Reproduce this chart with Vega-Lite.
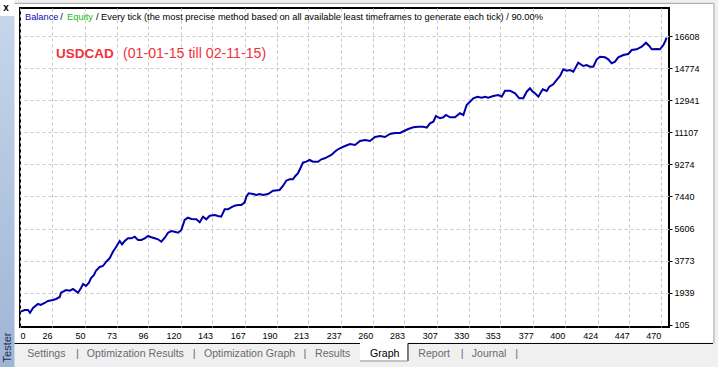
{
"$schema": "https://vega.github.io/schema/vega-lite/v6.json",
"width": 649, "height": 319,
"autosize": {"type": "none"},
"padding": {"left": 20, "top": 8, "right": 49, "bottom": 40},
"background": "white",
"resolve": {"axis": {"x": "independent", "y": "independent"}},
"config": {"font": "Liberation Sans", "view": {"stroke": "black", "strokeWidth": 2},
 "axis": {"gridColor": "#c8c8c8", "gridDash": [3, 3], "gridWidth": 1, "domain": false, "title": null, "labelOverlap": false, "labelFlush": false, "labelFontSize": 9, "labelColor": "#000000"}},
"datasets": {"balance": [
{"trade":3.1,"balance":854},{"trade":6.0,"balance":951},{"trade":8.4,"balance":951},{"trade":9.9,"balance":797},{"trade":12.1,"balance":1065},{"trade":15.7,"balance":1294},{"trade":17.7,"balance":1237},{"trade":20.6,"balance":1351},{"trade":23.0,"balance":1465},{"trade":26.7,"balance":1523},{"trade":28.9,"balance":1580},{"trade":31.6,"balance":1694},{"trade":32.5,"balance":1940},{"trade":36.2,"balance":2094},{"trade":38.9,"balance":2054},{"trade":41.3,"balance":2151},{"trade":44.9,"balance":1940},{"trade":47.1,"balance":2208},{"trade":48.6,"balance":2437},{"trade":50.7,"balance":2323},{"trade":52.9,"balance":2511},{"trade":54.4,"balance":2780},{"trade":56.6,"balance":2952},{"trade":58.0,"balance":3197},{"trade":60.7,"balance":3409},{"trade":63.1,"balance":3466},{"trade":65.5,"balance":3712},{"trade":68.0,"balance":3906},{"trade":70.4,"balance":4283},{"trade":72.8,"balance":4569},{"trade":75.3,"balance":4895},{"trade":77.0,"balance":4706},{"trade":79.0,"balance":4895},{"trade":81.4,"balance":5049},{"trade":83.8,"balance":5049},{"trade":86.3,"balance":5141},{"trade":88.7,"balance":4952},{"trade":91.1,"balance":4952},{"trade":93.6,"balance":5049},{"trade":96.0,"balance":5181},{"trade":98.4,"balance":5107},{"trade":100.9,"balance":5049},{"trade":103.3,"balance":4992},{"trade":105.7,"balance":4855},{"trade":108.2,"balance":5084},{"trade":110.6,"balance":5369},{"trade":113.0,"balance":5467},{"trade":115.4,"balance":5427},{"trade":117.9,"balance":5369},{"trade":120.3,"balance":5524},{"trade":122.7,"balance":6095},{"trade":125.1,"balance":6227},{"trade":127.6,"balance":6152},{"trade":131.2,"balance":6135},{"trade":133.7,"balance":5964},{"trade":136.1,"balance":6284},{"trade":138.5,"balance":6135},{"trade":141.0,"balance":6341},{"trade":144.6,"balance":6381},{"trade":147.0,"balance":6324},{"trade":149.4,"balance":6284},{"trade":151.9,"balance":6707},{"trade":154.3,"balance":6707},{"trade":156.7,"balance":6821},{"trade":159.2,"balance":6913},{"trade":161.6,"balance":6953},{"trade":164.0,"balance":6953},{"trade":166.5,"balance":7107},{"trade":167.7,"balance":7427},{"trade":169.4,"balance":7622},{"trade":172.6,"balance":7582},{"trade":175.0,"balance":7524},{"trade":177.4,"balance":7582},{"trade":179.9,"balance":7524},{"trade":183.5,"balance":7582},{"trade":187.2,"balance":7770},{"trade":192.0,"balance":7810},{"trade":194.4,"balance":8039},{"trade":196.8,"balance":8342},{"trade":199.3,"balance":8422},{"trade":201.7,"balance":8422},{"trade":203.0,"balance":8570},{"trade":205.4,"balance":8765},{"trade":207.1,"balance":9051},{"trade":209.0,"balance":9371},{"trade":211.4,"balance":9428},{"trade":213.9,"balance":9525},{"trade":216.3,"balance":9428},{"trade":220.0,"balance":9428},{"trade":222.4,"balance":9565},{"trade":224.9,"balance":9622},{"trade":227.3,"balance":9714},{"trade":229.7,"balance":9811},{"trade":232.2,"balance":9999},{"trade":234.6,"balance":10137},{"trade":237.0,"balance":10228},{"trade":239.7,"balance":10325},{"trade":243.3,"balance":10440},{"trade":247.0,"balance":10382},{"trade":250.6,"balance":10611},{"trade":254.3,"balance":10668},{"trade":257.9,"balance":10611},{"trade":261.6,"balance":10840},{"trade":265.2,"balance":10897},{"trade":268.8,"balance":10840},{"trade":272.5,"balance":11011},{"trade":276.1,"balance":11068},{"trade":279.8,"balance":11068},{"trade":282.7,"balance":11183},{"trade":285.8,"balance":11297},{"trade":289.5,"balance":11394},{"trade":293.1,"balance":11428},{"trade":296.8,"balance":11428},{"trade":299.3,"balance":11371},{"trade":301.7,"balance":11623},{"trade":304.1,"balance":11714},{"trade":306.0,"balance":12040},{"trade":309.0,"balance":11909},{"trade":311.4,"balance":11966},{"trade":313.3,"balance":12097},{"trade":316.3,"balance":11966},{"trade":319.9,"balance":11966},{"trade":323.5,"balance":12194},{"trade":326.0,"balance":12097},{"trade":328.4,"balance":12669},{"trade":330.8,"balance":12857},{"trade":333.3,"balance":13052},{"trade":336.2,"balance":13143},{"trade":339.4,"balance":13086},{"trade":341.8,"balance":13143},{"trade":344.2,"balance":13086},{"trade":347.8,"balance":13183},{"trade":351.5,"balance":13240},{"trade":354.0,"balance":13143},{"trade":356.4,"balance":13486},{"trade":360.0,"balance":13486},{"trade":363.7,"balance":13338},{"trade":366.8,"balance":13052},{"trade":369.7,"balance":13052},{"trade":372.2,"balance":13429},{"trade":374.6,"balance":13623},{"trade":376.6,"balance":13429},{"trade":378.3,"balance":13338},{"trade":380.7,"balance":13143},{"trade":383.9,"balance":13566},{"trade":386.8,"balance":13469},{"trade":388.7,"balance":13715},{"trade":391.6,"balance":13852},{"trade":394.1,"balance":14098},{"trade":396.5,"balance":14326},{"trade":398.9,"balance":14709},{"trade":401.4,"balance":14629},{"trade":403.8,"balance":14669},{"trade":406.2,"balance":14572},{"trade":409.8,"balance":15087},{"trade":413.5,"balance":14898},{"trade":416.0,"balance":14955},{"trade":418.4,"balance":14858},{"trade":420.8,"balance":14858},{"trade":423.3,"balance":15281},{"trade":425.7,"balance":15430},{"trade":429.3,"balance":15395},{"trade":431.7,"balance":15281},{"trade":434.2,"balance":15052},{"trade":436.6,"balance":15144},{"trade":439.0,"balance":15395},{"trade":442.7,"balance":15527},{"trade":446.3,"balance":15584},{"trade":448.8,"balance":15813},{"trade":452.4,"balance":15853},{"trade":456.1,"balance":16001},{"trade":459.2,"balance":16230},{"trade":461.6,"balance":16041},{"trade":463.4,"balance":15853},{"trade":467.0,"balance":15870},{"trade":469.4,"balance":15853},{"trade":471.9,"balance":16098},{"trade":473.3,"balance":16327},{"trade":474.3,"balance":16516}
]},
"layer": [
{"data": {"name": "balance"}, "mark": {"type": "line", "color": "#0000aa", "strokeWidth": 2},
 "encoding": {
  "x": {"field": "trade", "type": "quantitative", "scale": {"domain": [2.6, 476], "nice": false, "zero": false},
   "axis": {"values": [2.6, 26, 50, 73, 96, 120, 143, 167, 190, 213, 237, 260, 283, 307, 330, 353, 377, 400, 424, 447, 470], "format": "d", "labelExpr": "datum.value < 5 ? '0' : datum.label", "labelAlign": {"condition": {"test": "datum.value < 5", "value": "left"}, "value": "right"}, "labelFlush": false, "labelOverlap": false, "ticks": false, "tickSize": 0, "labelPadding": 4, "domain": false, "grid": true, "gridColor": "#c8c8c8", "gridDash": [3, 3], "title": null, "labelFontSize": 9, "labelColor": "#000000", "labelBaseline": "top"}},
  "y": {"field": "balance", "type": "quantitative", "scale": {"domain": [-21, 18213], "nice": false, "zero": false},
   "axis": {"orient": "right", "values": [105, 1939, 3773, 5606, 7440, 9274, 11107, 12941, 14774, 16608], "format": "d", "tickSize": 3, "tickColor": "#000000", "labelPadding": 2, "domain": false, "grid": true, "gridColor": {"condition": {"test": "datum.value < 200", "value": "transparent"}, "value": "#c8c8c8"}, "gridDash": [3, 3], "title": null, "labelFontSize": 9, "labelColor": "#000000", "labelAlign": "left", "labelBaseline": "middle", "labelOverlap": false, "labelFlush": false}}
 }},
{"data": {"values": [{}]}, "mark": {"type": "rect", "color": "#f0f0f0"}, "encoding": {"x": {"datum": -1.4, "type": "quantitative", "axis": null}, "x2": {"datum": 515}, "y": {"datum": -992, "type": "quantitative", "axis": null}, "y2": {"datum": -2500}}},
{"data": {"values": [{}]}, "mark": {"type": "rect", "color": "#f0f0f0"}, "encoding": {"x": {"datum": -1.4, "type": "quantitative", "axis": null}, "x2": {"datum": 515}, "y": {"datum": 18499, "type": "quantitative", "axis": null}, "y2": {"datum": 18800}}},
{"data": {"values": [{}]}, "mark": {"type": "rect", "color": "#f0f0f0"}, "encoding": {"x": {"datum": 509.0, "type": "quantitative", "axis": null}, "x2": {"datum": 515}, "y": {"datum": 18800, "type": "quantitative", "axis": null}, "y2": {"datum": -2500}}},
{"data": {"values": [{}]}, "mark": {"type": "rect", "color": {"gradient": "linear", "x1": 0, "y1": 0, "x2": 0, "y2": 1, "stops": [{"offset": 0, "color": "#c6d5ea"}, {"offset": 1, "color": "#9fb5d5"}]}}, "encoding": {"x": {"datum": -12.5, "type": "quantitative", "axis": null}, "x2": {"datum": -1.4}, "y": {"datum": 17756, "type": "quantitative", "axis": null}, "y2": {"datum": -2500}}},
{"data": {"values": [{}]}, "mark": {"type": "rule", "color": "#000000", "strokeWidth": 1}, "encoding": {"x": {"datum": -1.4, "type": "quantitative", "axis": null}, "x2": {"datum": 508.1}, "y": {"datum": -963, "type": "quantitative", "axis": null}}},
{"data": {"values": [{}]}, "mark": {"type": "rule", "color": "#a0a0a0", "strokeWidth": 1}, "encoding": {"x": {"datum": -1.4, "type": "quantitative", "axis": null}, "x2": {"datum": 508.8}, "y": {"datum": 18480, "type": "quantitative", "axis": null}}},
{"data": {"values": [{}]}, "mark": {"type": "rule", "color": "#a0a0a0", "strokeWidth": 1}, "encoding": {"x": {"datum": 508.8, "type": "quantitative", "axis": null}, "y": {"datum": 18480, "type": "quantitative", "axis": null}, "y2": {"datum": -963}}},
{"data": {"values": [{}]}, "mark": {"type": "rect", "color": "#ffffff"}, "encoding": {"x": {"datum": 250.6, "type": "quantitative", "axis": null}, "x2": {"datum": 285.6}, "y": {"datum": -920, "type": "quantitative", "axis": null}, "y2": {"datum": -1964}}},
{"data": {"values": [{}]}, "mark": {"type": "rule", "color": "#000000", "strokeWidth": 1}, "encoding": {"x": {"datum": 285.6, "type": "quantitative", "axis": null}, "y": {"datum": -963, "type": "quantitative", "axis": null}, "y2": {"datum": -1964}}},
{"data": {"values": [{}]}, "mark": {"type": "rule", "color": "#909090", "strokeWidth": 1}, "encoding": {"x": {"datum": 250.6, "type": "quantitative", "axis": null}, "x2": {"datum": 285.6}, "y": {"datum": -1964, "type": "quantitative", "axis": null}}},
{"data": {"values": [{}]}, "mark": {"type": "text", "text": "x", "fontWeight": "bold", "fontSize": 10, "align": "center", "baseline": "middle", "color": "#000000"}, "encoding": {"x": {"datum": -7.6, "type": "quantitative", "axis": null}, "y": {"datum": 18185, "type": "quantitative", "axis": null}}},
{"data": {"values": [{}]}, "mark": {"type": "text", "text": "Tester", "angle": 270, "fontSize": 11, "align": "center", "baseline": "middle", "color": "#1e2d4f"}, "encoding": {"x": {"datum": -6.15, "type": "quantitative", "axis": null}, "y": {"datum": -1193, "type": "quantitative", "axis": null}}},
{"data": {"values": [{}]}, "mark": {"type": "text", "text": "Settings", "fontSize": 10.6, "align": "left", "baseline": "middle", "color": "#6b6b6b"}, "encoding": {"x": {"datum": 7.9, "type": "quantitative", "axis": null}, "y": {"datum": -1564, "type": "quantitative", "axis": null}}},
{"data": {"values": [{}]}, "mark": {"type": "text", "text": "|", "fontSize": 11, "align": "center", "baseline": "middle", "color": "#6b6b6b"}, "encoding": {"x": {"datum": 44.4, "type": "quantitative", "axis": null}, "y": {"datum": -1564, "type": "quantitative", "axis": null}}},
{"data": {"values": [{}]}, "mark": {"type": "text", "text": "Optimization Results", "fontSize": 10.6, "align": "left", "baseline": "middle", "color": "#6b6b6b"}, "encoding": {"x": {"datum": 51.3, "type": "quantitative", "axis": null}, "y": {"datum": -1564, "type": "quantitative", "axis": null}}},
{"data": {"values": [{}]}, "mark": {"type": "text", "text": "|", "fontSize": 11, "align": "center", "baseline": "middle", "color": "#6b6b6b"}, "encoding": {"x": {"datum": 129.7, "type": "quantitative", "axis": null}, "y": {"datum": -1564, "type": "quantitative", "axis": null}}},
{"data": {"values": [{}]}, "mark": {"type": "text", "text": "Optimization Graph", "fontSize": 10.6, "align": "left", "baseline": "middle", "color": "#6b6b6b"}, "encoding": {"x": {"datum": 136.8, "type": "quantitative", "axis": null}, "y": {"datum": -1564, "type": "quantitative", "axis": null}}},
{"data": {"values": [{}]}, "mark": {"type": "text", "text": "|", "fontSize": 11, "align": "center", "baseline": "middle", "color": "#6b6b6b"}, "encoding": {"x": {"datum": 210.5, "type": "quantitative", "axis": null}, "y": {"datum": -1564, "type": "quantitative", "axis": null}}},
{"data": {"values": [{}]}, "mark": {"type": "text", "text": "Results", "fontSize": 10.6, "align": "left", "baseline": "middle", "color": "#6b6b6b"}, "encoding": {"x": {"datum": 217.8, "type": "quantitative", "axis": null}, "y": {"datum": -1564, "type": "quantitative", "axis": null}}},
{"data": {"values": [{}]}, "mark": {"type": "text", "text": "Graph", "fontSize": 10.6, "align": "left", "baseline": "middle", "color": "#000000"}, "encoding": {"x": {"datum": 257.9, "type": "quantitative", "axis": null}, "y": {"datum": -1564, "type": "quantitative", "axis": null}}},
{"data": {"values": [{}]}, "mark": {"type": "text", "text": "Report", "fontSize": 10.6, "align": "left", "baseline": "middle", "color": "#6b6b6b"}, "encoding": {"x": {"datum": 293.1, "type": "quantitative", "axis": null}, "y": {"datum": -1564, "type": "quantitative", "axis": null}}},
{"data": {"values": [{}]}, "mark": {"type": "text", "text": "|", "fontSize": 11, "align": "center", "baseline": "middle", "color": "#6b6b6b"}, "encoding": {"x": {"datum": 325.2, "type": "quantitative", "axis": null}, "y": {"datum": -1564, "type": "quantitative", "axis": null}}},
{"data": {"values": [{}]}, "mark": {"type": "text", "text": "Journal", "fontSize": 10.6, "align": "left", "baseline": "middle", "color": "#6b6b6b"}, "encoding": {"x": {"datum": 332.1, "type": "quantitative", "axis": null}, "y": {"datum": -1564, "type": "quantitative", "axis": null}}},
{"data": {"values": [{}]}, "mark": {"type": "text", "text": "|", "fontSize": 11, "align": "center", "baseline": "middle", "color": "#6b6b6b"}, "encoding": {"x": {"datum": 364.9, "type": "quantitative", "axis": null}, "y": {"datum": -1564, "type": "quantitative", "axis": null}}},
{"data": {"values": [{}]}, "mark": {"type": "text", "text": "Balance", "fontSize": 9.3, "align": "left", "baseline": "middle", "color": "#0c0ca8"}, "encoding": {"x": {"datum": 6.2, "type": "quantitative", "axis": null}, "y": {"datum": 17700, "type": "quantitative", "axis": null}}},
{"data": {"values": [{}]}, "mark": {"type": "text", "text": "/", "fontSize": 9.3, "align": "center", "baseline": "middle", "color": "#000000"}, "encoding": {"x": {"datum": 32.9, "type": "quantitative", "axis": null}, "y": {"datum": 17700, "type": "quantitative", "axis": null}}},
{"data": {"values": [{}]}, "mark": {"type": "text", "text": "Equity", "fontSize": 9.3, "align": "left", "baseline": "middle", "color": "#16b816"}, "encoding": {"x": {"datum": 36.9, "type": "quantitative", "axis": null}, "y": {"datum": 17700, "type": "quantitative", "axis": null}}},
{"data": {"values": [{}]}, "mark": {"type": "text", "text": "/ Every tick (the most precise method based on all available least timeframes to generate each tick) / 90.00%", "fontSize": 9.3, "align": "left", "baseline": "middle", "color": "#000000"}, "encoding": {"x": {"datum": 58.0, "type": "quantitative", "axis": null}, "y": {"datum": 17700, "type": "quantitative", "axis": null}}},
{"data": {"values": [{}]}, "mark": {"type": "text", "text": "USDCAD", "fontSize": 13.5, "fontWeight": "bold", "align": "left", "baseline": "middle", "color": "#f0323c"}, "encoding": {"x": {"datum": 28.9, "type": "quantitative", "axis": null}, "y": {"datum": 15584, "type": "quantitative", "axis": null}}},
{"data": {"values": [{}]}, "mark": {"type": "text", "text": "(01-01-15 till 02-11-15)", "fontSize": 14.2, "align": "left", "baseline": "middle", "color": "#f0323c"}, "encoding": {"x": {"datum": 77.7, "type": "quantitative", "axis": null}, "y": {"datum": 15584, "type": "quantitative", "axis": null}}}
]
}
